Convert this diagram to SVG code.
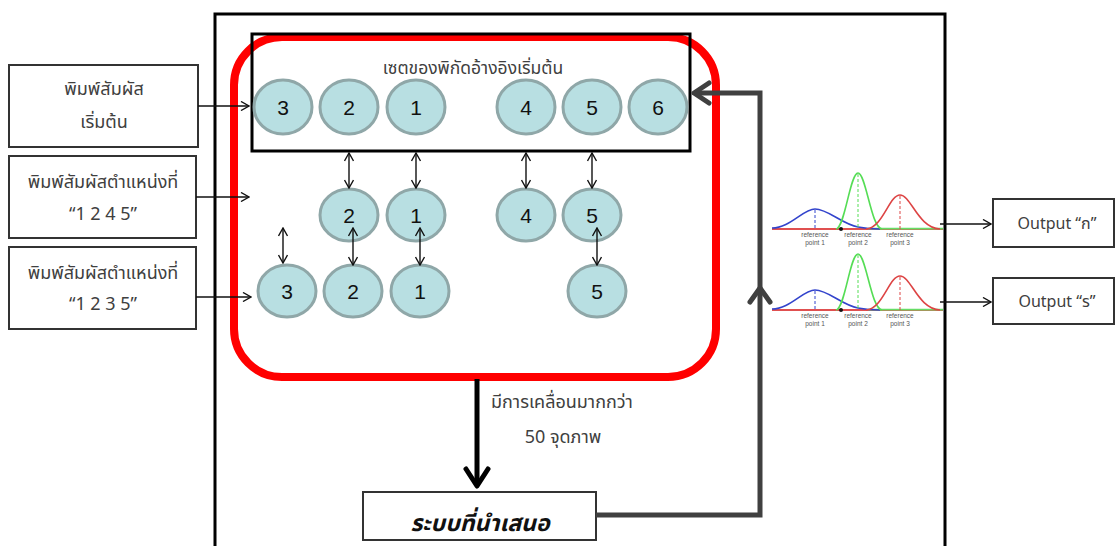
<svg xmlns="http://www.w3.org/2000/svg" xmlns:xlink="http://www.w3.org/1999/xlink" width="1119" height="546" viewBox="0 0 1119 546">
  <style>
    .th { font-family: "Noto Sans Thai", "Noto Sans", "DejaVu Sans", sans-serif; fill: #404040; }
    .lbl { font-size: 18px; text-anchor: middle; }
    .box { fill: #ffffff; stroke: #333333; stroke-width: 2; }
    .pt ellipse { fill: #b8dfe2; stroke: #8fa7a8; stroke-width: 3; }
    .pt text { font-family: "Liberation Sans", Arial, sans-serif; font-size: 21px; text-anchor: middle; fill: #111111; }
    .thin { stroke: #111111; stroke-width: 1.4; fill: none; }
    .dbl { stroke: #111111; stroke-width: 1.4; fill: none; marker-start: url(#open); marker-end: url(#open); }
    .small { font-family: "Liberation Sans", Arial, sans-serif; font-size: 6.5px; fill: #555555; text-anchor: middle; }
  </style>
  <defs>
    <marker id="open" viewBox="0 0 10 10" refX="9" refY="5" markerWidth="10" markerHeight="10" markerUnits="userSpaceOnUse" orient="auto-start-reverse">
      <path d="M1,0.5 L9,5 L1,9.5" fill="none" stroke="#111111" stroke-width="1.4"/>
    </marker>
    <!-- three overlapping bell curves with reference labels -->
    <g id="bells">
      <line x1="772" y1="229" x2="943" y2="229" stroke="#e05050" stroke-width="1.8"/>
      <line x1="868" y1="228.6" x2="943" y2="228.6" stroke="#66dd66" stroke-width="1.8"/>
      <path d="M772,228 C790,228 803,209 815,209 C828,209 842,224 858,227 C866,228.5 872,229 880,229" fill="none" stroke="#3344cc" stroke-width="1.6"/>
      <path d="M836,229 C845,228 850,173 858,173 C866,173 871,228 882,229" fill="none" stroke="#55dd55" stroke-width="1.6"/>
      <path d="M866,229 C883,228 889,195 900,195 C911,195 918,228 940,229" fill="none" stroke="#dd4444" stroke-width="1.6"/>
      <line x1="815" y1="210" x2="815" y2="229" stroke="#3344cc" stroke-width="1" stroke-dasharray="3,2"/>
      <line x1="858" y1="174" x2="858" y2="229" stroke="#55dd55" stroke-width="1" stroke-dasharray="3,2"/>
      <line x1="900" y1="196" x2="900" y2="229" stroke="#dd4444" stroke-width="1" stroke-dasharray="3,2"/>
      <circle cx="841" cy="229" r="2" fill="#111111"/>
      <text class="small" x="815" y="237">reference</text>
      <text class="small" x="815" y="245">point 1</text>
      <text class="small" x="858" y="237">reference</text>
      <text class="small" x="858" y="245">point 2</text>
      <text class="small" x="900" y="237">reference</text>
      <text class="small" x="900" y="245">point 3</text>
    </g>
  </defs>

  <rect width="1119" height="546" fill="#ffffff"/>

  <!-- outer system frame -->
  <path d="M215,548 V14 H945 V548" fill="none" stroke="#000000" stroke-width="3"/>

  <!-- processing region -->
  <rect x="234" y="37" width="482" height="340" rx="48" ry="48" fill="none" stroke="#ff0000" stroke-width="8"/>

  <!-- initial reference set -->
  <g id="reference-set">
    <rect x="252" y="34" width="438" height="117" fill="none" stroke="#000000" stroke-width="3"/>
    <text class="th" x="473" y="74" font-size="17.5" text-anchor="middle">เซตของพิกัดอ้างอิงเริ่มต้น</text>
  </g>

  <!-- input boxes -->
  <g id="input-start">
    <rect class="box" x="9" y="65" width="189" height="82"/>
    <text class="th lbl" x="104" y="95">พิมพ์สัมผัส</text>
    <text class="th lbl" x="104" y="128">เริ่มต้น</text>
  </g>
  <g id="input-1245">
    <rect class="box" x="9" y="156" width="187" height="82"/>
    <text class="th lbl" x="103" y="188">พิมพ์สัมผัสตำแหน่งที่</text>
    <text class="th lbl" x="103" y="220">“1 2 4 5”</text>
  </g>
  <g id="input-1235">
    <rect class="box" x="9" y="247" width="187" height="82"/>
    <text class="th lbl" x="103" y="279">พิมพ์สัมผัสตำแหน่งที่</text>
    <text class="th lbl" x="103" y="310">“1 2 3 5”</text>
  </g>

  <!-- touch points: initial row -->
  <g id="p0-3" class="pt"><ellipse cx="283" cy="107" rx="29" ry="27"/><text x="283" y="115">3</text></g>
  <g id="p0-2" class="pt"><ellipse cx="349" cy="107" rx="29" ry="27"/><text x="349" y="115">2</text></g>
  <g id="p0-1" class="pt"><ellipse cx="416" cy="107" rx="29" ry="27"/><text x="416" y="115">1</text></g>
  <g id="p0-4" class="pt"><ellipse cx="526" cy="107" rx="29" ry="27"/><text x="526" y="115">4</text></g>
  <g id="p0-5" class="pt"><ellipse cx="592" cy="107" rx="29" ry="27"/><text x="592" y="115">5</text></g>
  <g id="p0-6" class="pt"><ellipse cx="658" cy="107" rx="29" ry="27"/><text x="658" y="115">6</text></g>

  <!-- touch points: "1 2 4 5" -->
  <g id="p1-2" class="pt"><ellipse cx="349" cy="215" rx="29" ry="26"/><text x="349" y="223">2</text></g>
  <g id="p1-1" class="pt"><ellipse cx="416" cy="215" rx="29" ry="26"/><text x="416" y="223">1</text></g>
  <g id="p1-4" class="pt"><ellipse cx="526" cy="215" rx="29" ry="26"/><text x="526" y="223">4</text></g>
  <g id="p1-5" class="pt"><ellipse cx="592" cy="215" rx="29" ry="26"/><text x="592" y="223">5</text></g>

  <!-- touch points: "1 2 3 5" -->
  <g id="p2-3" class="pt"><ellipse cx="287" cy="291" rx="29" ry="26"/><text x="287" y="299">3</text></g>
  <g id="p2-2" class="pt"><ellipse cx="353" cy="291" rx="29" ry="26"/><text x="353" y="299">2</text></g>
  <g id="p2-1" class="pt"><ellipse cx="420" cy="291" rx="29" ry="26"/><text x="420" y="299">1</text></g>
  <g id="p2-5" class="pt"><ellipse cx="597" cy="291" rx="29" ry="26"/><text x="597" y="299">5</text></g>

  <!-- distance plots -->
  <g id="plot-1"><use xlink:href="#bells"/></g>
  <g id="plot-2" transform="translate(0,81)"><use xlink:href="#bells"/></g>

  <!-- outputs -->
  <g id="output-1">
    <rect class="box" x="993" y="199" width="121" height="48"/>
    <text class="th" x="1057" y="229" font-size="16" text-anchor="middle">Output “ก”</text>
  </g>
  <g id="output-2">
    <rect class="box" x="993" y="278" width="121" height="46"/>
    <text class="th" x="1057" y="307" font-size="16" text-anchor="middle">Output “ร”</text>
  </g>

  <!-- proposed system -->
  <g id="proposed">
    <rect class="box" x="363" y="492" width="233" height="48" stroke="#555555"/>
    <text class="th" x="480" y="531" font-size="23" font-weight="bold" font-style="italic" text-anchor="middle" style="fill:#111111">ระบบที่นำเสนอ</text>
  </g>

  <text class="th" x="491" y="408" font-size="18">มีการเคลื่อนมากกว่า</text>
  <text class="th" x="563" y="443" font-size="18" text-anchor="middle">50 จุดภาพ</text>

  <!-- connectors -->
  <g id="connectors">
    <line class="thin" x1="198" y1="106" x2="249" y2="106" marker-end="url(#open)"/>
    <line class="thin" x1="196" y1="197" x2="249" y2="197" marker-end="url(#open)"/>
    <line class="thin" x1="196" y1="297" x2="251" y2="297" marker-end="url(#open)"/>

    <line class="dbl" x1="349" y1="153" x2="349" y2="188"/>
    <line class="dbl" x1="416" y1="153" x2="416" y2="188"/>
    <line class="dbl" x1="526" y1="153" x2="526" y2="188"/>
    <line class="dbl" x1="592" y1="153" x2="592" y2="188"/>
    <line class="dbl" x1="283" y1="228" x2="283" y2="263"/>
    <line class="dbl" x1="353" y1="228" x2="353" y2="265"/>
    <line class="dbl" x1="420" y1="228" x2="420" y2="265"/>
    <line class="dbl" x1="597" y1="228" x2="597" y2="265"/>

    <line class="thin" x1="940" y1="224" x2="991" y2="224" marker-end="url(#open)"/>
    <line class="thin" x1="940" y1="302" x2="991" y2="302" marker-end="url(#open)"/>

    <!-- movement to proposed system -->
    <line x1="477" y1="379" x2="477" y2="486" stroke="#000000" stroke-width="5"/>
    <path d="M466,469 L477,486 L488,469" fill="none" stroke="#000000" stroke-width="5" stroke-linecap="round" stroke-linejoin="round"/>

    <!-- feedback loop -->
    <path d="M596,515 H760 V93 H694" fill="none" stroke="#404040" stroke-width="5" stroke-linejoin="miter"/>
    <path d="M709,83 L694,93 L709,103" fill="none" stroke="#404040" stroke-width="5" stroke-linecap="round" stroke-linejoin="round"/>
    <path d="M750,302 L760,288 L770,302" fill="none" stroke="#404040" stroke-width="5" stroke-linecap="round" stroke-linejoin="round"/>
  </g>
</svg>
